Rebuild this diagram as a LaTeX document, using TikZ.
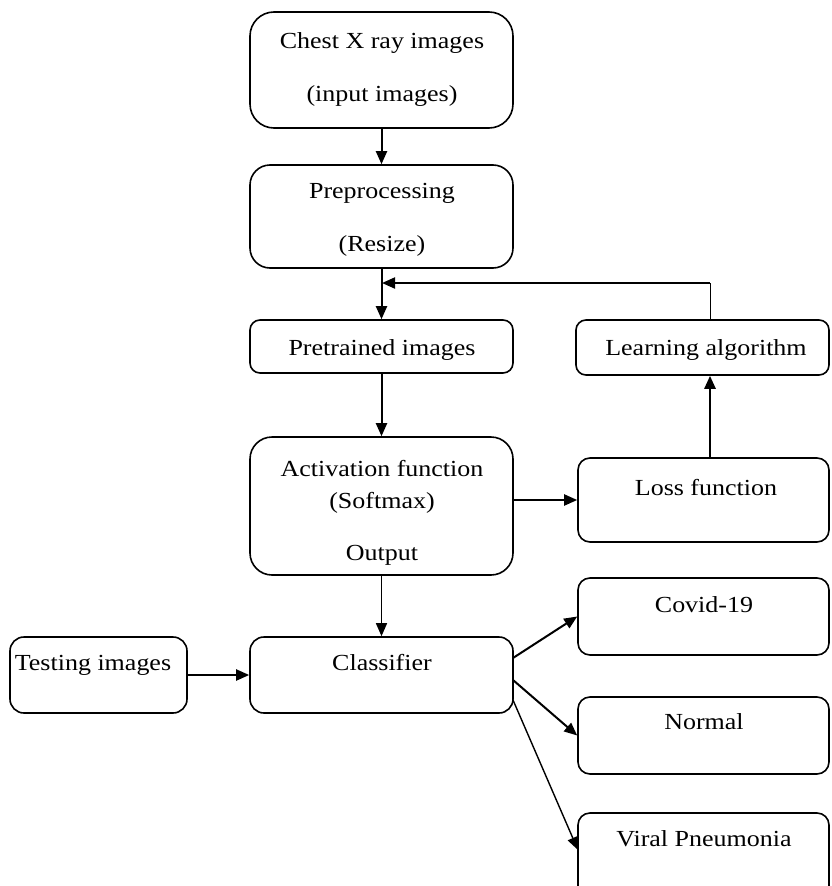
\documentclass[tikz,border=0pt]{standalone}
\usepackage{fontspec}
\setmainfont[FakeStretch=1.13]{Liberation Serif}
\usetikzlibrary{arrows.meta}
\tikzset{
  box/.style={draw, line width=1.6pt, inner sep=0pt},
  lbl/.style={font=\fontsize{23}{26}\selectfont, inner sep=0pt, anchor=base},
  arr/.style={line width=2pt, -{Triangle[length=13pt,width=11pt]}},
  thinarr/.style={line width=1.4pt, -{Triangle[length=13pt,width=11pt]}}
}
\newcommand{\bx}[6]{%
  \pgfmathsetmacro{\bw}{#4-#2}\pgfmathsetmacro{\bh}{#5-#3}%
  \node[box, rounded corners=#6pt, minimum width=\bw pt, minimum height=\bh pt] (#1) at ({(#2+#4)/2},{(#3+#5)/2}) {};}
\begin{document}
\begin{tikzpicture}[x=1pt,y=-1pt]
\useasboundingbox (0,0) rectangle (831,886);
% boxes
\bx{cxr}{250}{12}{513}{128}{24}
\bx{pre}{250}{165}{513}{268}{20}
\bx{ptr}{250}{320}{513}{373}{10}
\bx{lal}{576}{320}{829}{375}{10}
\bx{act}{250}{437}{513}{575}{22}
\bx{los}{578}{458}{829}{542}{12}
\bx{cls}{250}{637}{513}{713}{14}
\bx{tst}{10}{637}{187}{713}{14}
\bx{cov}{578}{578}{829}{655}{12}
\bx{nor}{578}{697}{829}{774}{12}
\bx{vir}{578}{813}{829}{900}{12}
% texts
\node[lbl] (t1) at (382,48) {Chest X ray images};
\node[lbl] (t2) at (382,101) {(input images)};
\node[lbl] (t3) at (382,198) {Preprocessing};
\node[lbl] (t4) at (382,251) {(Resize)};
\node[lbl] (t5) at (382,355) {Pretrained images};
\node[lbl] (t6) at (706,355) {Learning algorithm};
\node[lbl] (t7) at (382,476) {Activation function};
\node[lbl] (t8) at (382,508) {(Softmax)};
\node[lbl] (t9) at (382,560) {Output};
\node[lbl] (t10) at (706,495) {Loss function};
\node[lbl] (t11) at (382,670) {Classifier};
\node[lbl] (t12) at (93,670) {Testing images};
\node[lbl] (t13) at (704,612) {Covid-19};
\node[lbl] (t14) at (704,729) {Normal};
\node[lbl] (t15) at (704,846) {Viral Pneumonia};
% connectors
\coordinate (fb) at (382,283);
\coordinate (fbr) at (710,283);
\draw[arr] (cxr.south) -- (pre.north);
\draw[arr] (pre.south) -- (ptr.north);
\draw[line width=1pt] (lal.north -| fbr) -- (fbr);
\draw[arr] (fbr) -- (fb);
\draw[arr] (ptr.south) -- (act.north);
\draw[arr] (act.east |- los.west) -- (los.west);
\draw[line width=2.6pt, -{Triangle[length=13pt,width=11pt]}] (los.north -| fbr) -- (lal.south -| fbr);
\draw[thinarr] (act.south) -- (cls.north);
\draw[arr] (tst.east) -- (cls.west);
\coordinate (c1) at (513,658);
\coordinate (c2) at (513,680);
\coordinate (c3) at (513,700);
\draw[arr] (c1) -- (cov.west);
\draw[arr] (c2) -- (nor.west);
\draw[thinarr] (c3) -- (578,850);
\end{tikzpicture}
\end{document}
